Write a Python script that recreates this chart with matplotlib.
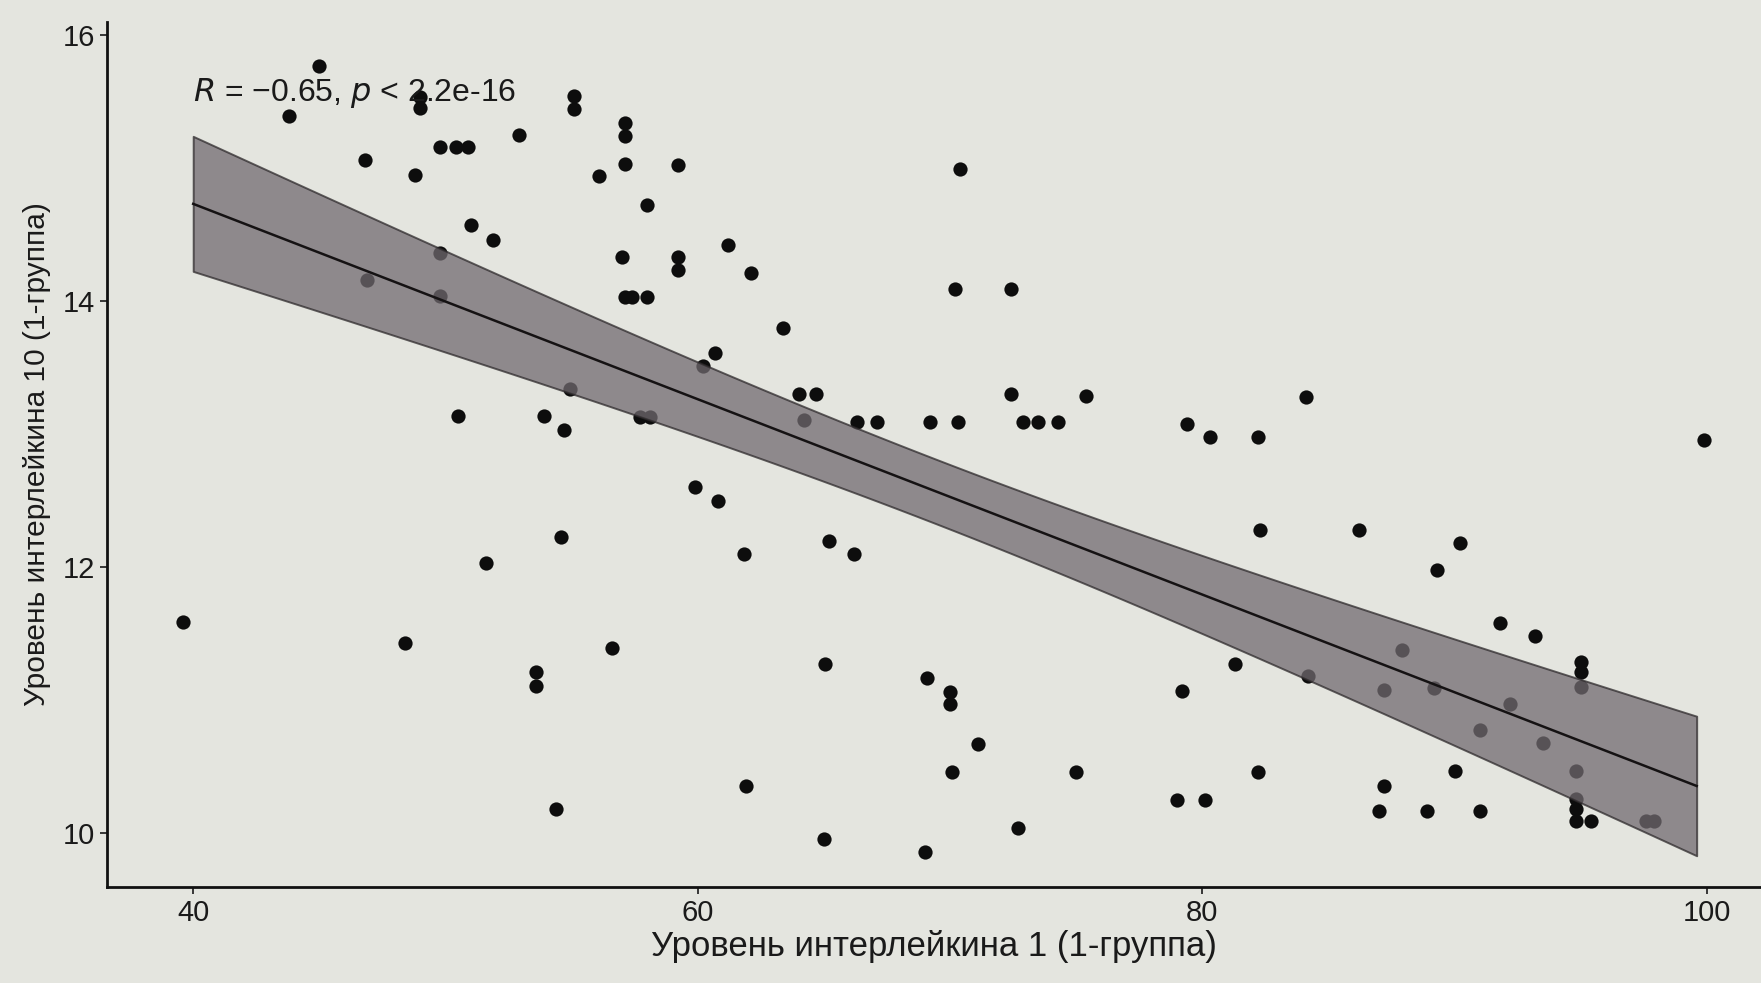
import numpy as np
import matplotlib
matplotlib.use("Agg")
import matplotlib.pyplot as plt

plt.rcParams['font.family'] = ['Liberation Sans', 'DejaVu Sans']

# IL-1 level (x) and IL-10 level (y), group 1
il1 = [39.6, 43.8, 45.0, 46.8, 46.9, 48.4, 48.8, 49.0, 49.0, 49.8, 50.4, 50.9,
       49.8, 49.8, 50.5, 51.0, 51.6, 51.9, 52.9, 53.6, 53.6, 53.9, 54.4, 54.6,
       54.7, 54.95, 55.1, 55.1, 56.1, 56.6, 57.1, 57.1, 57.1, 57.0, 57.1, 57.4,
       58.0, 58.0, 57.7, 58.1, 59.2, 59.2, 59.2, 59.9, 60.2, 60.7, 60.8, 61.2,
       61.85, 61.9, 62.1, 63.4, 64.0, 64.7, 64.2, 65.0, 65.05, 65.2, 66.2, 66.3,
       67.1, 69.0, 69.1, 69.2, 70.0, 70.0, 70.1, 70.2, 70.3, 70.4, 71.1, 72.4,
       72.4, 72.7, 72.9, 73.5, 74.3, 75.0, 75.4, 79.0, 79.2, 79.4, 80.1, 80.3,
       81.3, 82.2, 82.3, 82.2, 84.1, 84.2, 86.2, 87.0, 87.2, 87.2, 87.9, 88.9,
       89.2, 89.3, 90.0, 90.2, 91.0, 91.0, 91.8, 92.2, 93.2, 93.5, 95.0, 95.0,
       95.0, 94.8, 94.8, 94.8, 94.8, 95.4, 97.6, 97.9, 99.9]
il10 = [11.59, 15.39, 15.77, 15.06, 14.16, 11.43, 14.95, 15.53, 15.45, 15.16, 15.16, 15.16,
        14.36, 14.04, 13.14, 14.57, 12.03, 14.46, 15.25, 11.21, 11.11, 13.14, 10.18, 12.23,
        13.03, 13.34, 15.54, 15.44, 14.94, 11.39, 15.34, 15.24, 15.03, 14.33, 14.03, 14.03,
        14.03, 14.72, 13.13, 13.13, 15.02, 14.33, 14.23, 12.60, 13.51, 13.61, 12.50, 14.42,
        12.10, 10.36, 14.21, 13.80, 13.30, 13.30, 13.11, 9.96, 11.27, 12.20, 12.10, 13.09,
        13.09, 9.86, 11.17, 13.09, 11.06, 10.97, 10.46, 14.09, 13.09, 14.99, 10.67, 14.09,
        13.30, 10.04, 13.09, 13.09, 13.09, 10.46, 13.29, 10.25, 11.07, 13.08, 10.25, 12.98,
        11.27, 10.46, 12.28, 12.98, 13.28, 11.18, 12.28, 10.17, 10.36, 11.08, 11.38, 10.17,
        11.09, 11.98, 10.47, 12.18, 10.17, 10.78, 11.58, 10.97, 11.48, 10.68, 11.29, 11.21,
        11.10, 10.47, 10.26, 10.18, 10.09, 10.09, 10.09, 10.09, 12.96]

fit_range = [40.0, 99.6]   # x-span of the drawn regression band
x_ticks = [40, 60, 80, 100]
y_ticks = [10, 12, 14, 16]
x_label = "Уровень интерлейкина 1 (1-группа)"
y_label = "Уровень интерлейкина 10 (1-группа)"
stat_text = r"$\it{R}$ = −0.65, $\it{p}$ < 2.2e-16"

x = np.array(il1)
y = np.array(il10)
n = len(x)
b1, b0 = np.polyfit(x, y, 1)
resid = y - (b0 + b1 * x)
s = np.sqrt(np.sum(resid ** 2) / (n - 2))
xg = np.linspace(fit_range[0], fit_range[1], 80)
yg = b0 + b1 * xg
se = s * np.sqrt(1 / n + (xg - x.mean()) ** 2 / np.sum((x - x.mean()) ** 2))
tq = 1.98

bg = '#e4e5df'
fig = plt.figure(figsize=(17.61, 9.83), dpi=100, facecolor=bg)
ax = fig.add_axes([0.061, 0.098, 0.939, 0.88], facecolor=bg)

ax.scatter(x, y, s=105, color='#0d0d0d', zorder=2, linewidths=0)
ax.fill_between(xg, yg - tq * se, yg + tq * se, facecolor='#716a70', alpha=0.75,
                edgecolor='#2e2a2c', linewidth=1.4, zorder=3)
ax.plot(xg, yg, color='#151213', linewidth=1.8, zorder=4)

ax.text(40, 15.56, stat_text, fontsize=23, color='#1a1a1a', va='center', ha='left', zorder=5)

ax.set_xlim(36.6, 102.15)
ax.set_ylim(9.6, 16.1)
ax.set_xticks(x_ticks)
ax.set_yticks(y_ticks)
ax.tick_params(labelsize=21, length=5, width=1.2, colors='#1a1a1a', pad=4)
for side in ['top', 'right']:
    ax.spines[side].set_visible(False)
for side in ['left', 'bottom']:
    ax.spines[side].set_linewidth(2)
    ax.spines[side].set_color('#111111')
ax.set_xlabel(x_label, fontsize=25, color='#1a1a1a', labelpad=2)
ax.set_ylabel(y_label, fontsize=21.5, color='#1a1a1a', labelpad=8)

fig.savefig('out.png', dpi=100, facecolor=bg)
